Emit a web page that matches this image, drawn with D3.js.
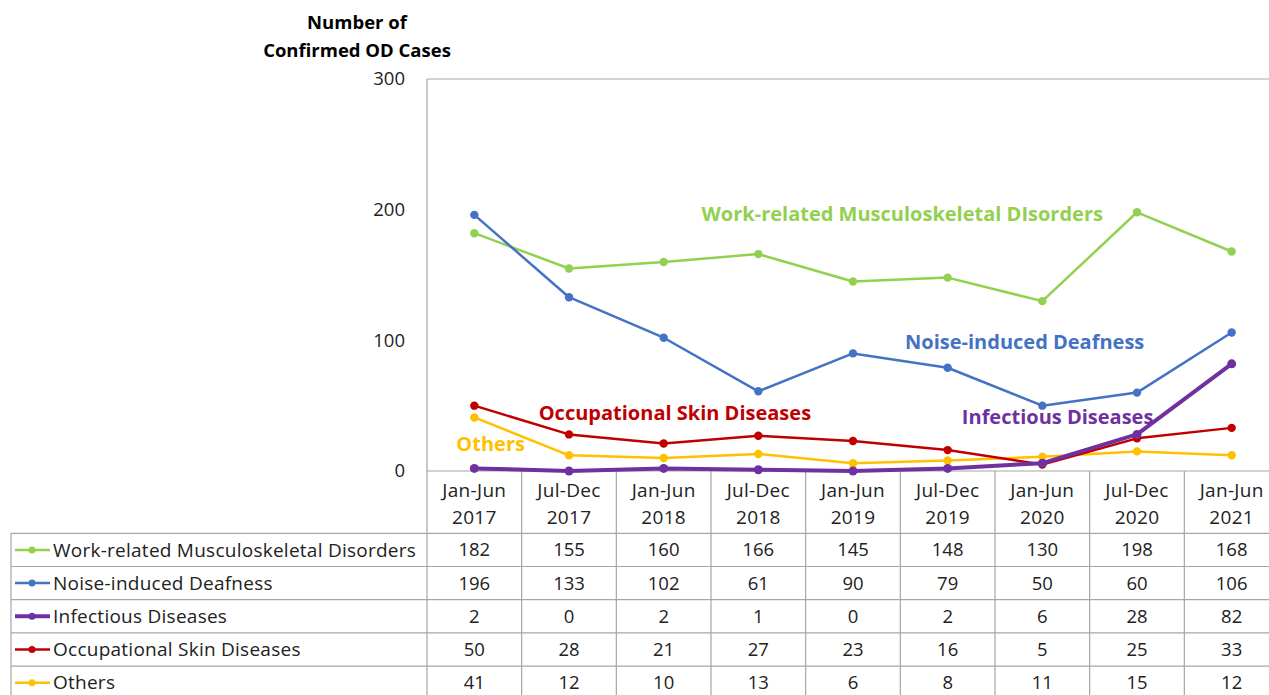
<!DOCTYPE html>
<html>
<head>
<meta charset="utf-8">
<script src="https://cdn.jsdelivr.net/npm/d3@7"></script>
<style>
  html, body { margin: 0; padding: 0; background: #fff; }
  svg { display: block; font-family: "Open Sans", Lato, sans-serif; }
</style>
</head>
<body>
<svg id="chart" width="1269" height="695"></svg>
<script>
const periods = ['Jan-Jun', 'Jul-Dec', 'Jan-Jun', 'Jul-Dec', 'Jan-Jun', 'Jul-Dec', 'Jan-Jun', 'Jul-Dec', 'Jan-Jun'];
const years = ['2017', '2017', '2018', '2018', '2019', '2019', '2020', '2020', '2021'];
const yTicks = [0, 100, 200, 300];

const musculoskeletal = [182, 155, 160, 166, 145, 148, 130, 198, 168];
const deafness = [196, 133, 102, 61, 90, 79, 50, 60, 106];
const infectious = [2, 0, 2, 1, 0, 2, 6, 28, 82];
const skin = [50, 28, 21, 27, 23, 16, 5, 25, 33];
const others = [41, 12, 10, 13, 6, 8, 11, 15, 12];

const seriesNames = ['Work-related Musculoskeletal Disorders', 'Noise-induced Deafness', 'Infectious Diseases', 'Occupational Skin Diseases', 'Others'];
const seriesValues = [musculoskeletal, deafness, infectious, skin, others];
const seriesColors = ['#92d050', '#4472c4', '#7030a0', '#c00000', '#ffc000'];
const seriesWidths = [2.5, 2.5, 4, 2.5, 2.5];

// in-chart labels (text as in the picture, anchored to a category/value)
const annotations = [
  { text: 'Work-related Musculoskeletal DIsorders', color: '#92d050', cat: 2.4, val: 191 },
  { text: 'Noise-induced Deafness', color: '#4472c4', cat: 4.55, val: 93 },
  { text: 'Occupational Skin Diseases', color: '#c00000', cat: 0.68, val: 39 },
  { text: 'Infectious Diseases', color: '#7030a0', cat: 5.15, val: 36 },
  { text: 'Others', color: '#ffc000', cat: -0.19, val: 15 }
];

const svg = d3.select('#chart');
const plotL = 427, plotR = 1279, plotT = 79, plotB = 471;
const rowH = 33.2, tableTop = 533.3, tableLeft = 11;

const x = d3.scaleBand().domain(d3.range(periods.length)).range([plotL, plotR]);
const y = d3.scaleLinear().domain([0, 300]).range([plotB, plotT]);
const cx = i => x(i) + x.bandwidth() / 2;

const grey = '#a6a6a6';

// title
svg.append('text').attr('x', 357).attr('y', 29).attr('text-anchor', 'middle')
  .attr('font-weight', 700).attr('font-size', 18.5).attr('fill', '#000').text('Number  of');
svg.append('text').attr('x', 357).attr('y', 57).attr('text-anchor', 'middle')
  .attr('font-weight', 700).attr('font-size', 18.5).attr('fill', '#000').text('Confirmed OD Cases');

// plot frame
svg.append('line').attr('x1', plotL).attr('x2', plotR).attr('y1', plotT).attr('y2', plotT).attr('stroke', grey).attr('stroke-width', 1);

// y tick labels
svg.append('g').selectAll('text').data(yTicks).join('text')
  .attr('x', 405).attr('y', d => y(d)).attr('dy', '0.35em').attr('text-anchor', 'end')
  .attr('font-size', 18.5).attr('fill', '#222').text(d => d);

// table grid
const g = svg.append('g').attr('stroke', grey).attr('stroke-width', 1.2);
g.append('line').attr('x1', plotL).attr('x2', plotL).attr('y1', plotT).attr('y2', 695);
g.append('line').attr('x1', plotL).attr('x2', plotR).attr('y1', plotB).attr('y2', plotB);
d3.range(1, periods.length).forEach(i => {
  g.append('line').attr('x1', x(i)).attr('x2', x(i)).attr('y1', plotB).attr('y2', 695);
});
g.append('line').attr('x1', tableLeft).attr('x2', tableLeft).attr('y1', tableTop).attr('y2', 695);
d3.range(seriesNames.length).forEach(r => {
  const yy = tableTop + r * rowH;
  g.append('line').attr('x1', tableLeft).attr('x2', plotR).attr('y1', yy).attr('y2', yy);
});

// category labels
const cat = svg.append('g').attr('font-size', 19).attr('letter-spacing', 0.3).attr('fill', '#222').attr('text-anchor', 'middle');
periods.forEach((p, i) => {
  cat.append('text').attr('x', cx(i)).attr('y', 497).text(p);
  cat.append('text').attr('x', cx(i)).attr('y', 524).text(years[i]);
});

// table rows
seriesNames.forEach((name, r) => {
  const yc = tableTop + r * rowH + rowH / 2;
  const row = svg.append('g');
  row.append('line').attr('x1', 15).attr('x2', 50).attr('y1', yc).attr('y2', yc)
    .attr('stroke', seriesColors[r]).attr('stroke-width', seriesWidths[r]);
  row.append('circle').attr('cx', 32).attr('cy', yc).attr('r', 3.5).attr('fill', seriesColors[r]);
  row.append('text').attr('x', 53).attr('y', yc).attr('dy', '0.35em')
    .attr('font-size', 19).attr('letter-spacing', 0.25).attr('fill', '#222').text(name);
  row.selectAll('text.v').data(seriesValues[r]).join('text').attr('class', 'v')
    .attr('x', (d, i) => cx(i)).attr('y', yc).attr('dy', '0.35em').attr('text-anchor', 'middle')
    .attr('font-size', 18.5).attr('fill', '#222').text(d => d);
});

// lines
const line = d3.line().x((d, i) => cx(i)).y(d => y(d));
const order = [4, 3, 0, 1, 2];
order.forEach(s => {
  const sg = svg.append('g');
  sg.append('path').datum(seriesValues[s]).attr('d', line).attr('fill', 'none')
    .attr('stroke', seriesColors[s]).attr('stroke-width', seriesWidths[s]).attr('stroke-linejoin', 'round');
  sg.selectAll('circle').data(seriesValues[s]).join('circle')
    .attr('cx', (d, i) => cx(i)).attr('cy', d => y(d)).attr('r', s === 2 ? 4.5 : 4.2).attr('fill', seriesColors[s]);
});

// annotations
annotations.forEach(a => {
  svg.append('text').attr('x', x(0) + a.cat * x.bandwidth() + x.bandwidth() / 2).attr('y', y(a.val))
    .attr('font-size', 20).attr('font-weight', 700).attr('fill', a.color).text(a.text);
});
</script>
</body>
</html>
